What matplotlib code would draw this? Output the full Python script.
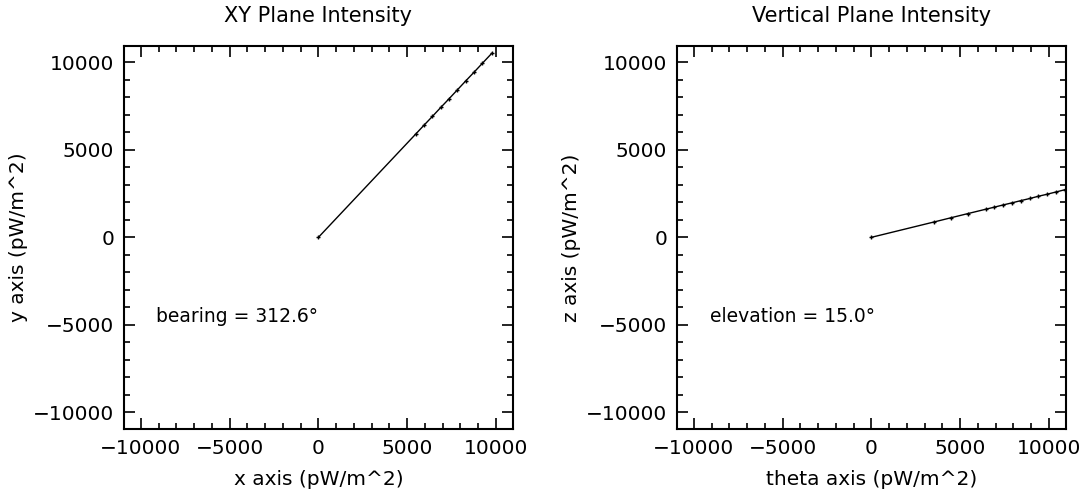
import matplotlib
matplotlib.use('Agg')
import matplotlib.pyplot as plt
from matplotlib.ticker import MultipleLocator

'''Intensity samples read off the plot (pW/m^2)'''
xy_x = [0, 5480, 5950, 6420, 6890, 7360, 7830, 8300, 8770, 9240, 9770]
xy_y = [0, 5900, 6410, 6910, 7420, 7920, 8430, 8940, 9440, 9950, 10520]

vert_theta = [0, 3540, 4490, 5450, 6460, 6910, 7420, 7920, 8430, 8930,
              9380, 9890, 10390, 10900, 11400]
vert_z = [0, 880, 1120, 1360, 1610, 1720, 1850, 1970, 2100, 2220,
          2340, 2460, 2590, 2720, 2840]

bearing = 312.6
elevation = 15.0

LIMIT = 10950
TICKS = [-10000, -5000, 0, 5000, 10000]
TICK_LABELS = ['\u221210000', '\u22125000', '0', '5000', '10000']

plt.rcParams['font.family'] = 'DejaVu Sans'

fig = plt.figure(figsize=(10.92, 4.97), dpi=100)
ax1 = fig.add_axes([0.1136, 0.137, 0.356, 0.771])
ax2 = fig.add_axes([0.620, 0.137, 0.356, 0.771])


def style_axis(ax, title, xlabel, ylabel):
    ax.set_xlim(-LIMIT, LIMIT)
    ax.set_ylim(-LIMIT, LIMIT)
    ax.set_xticks(TICKS)
    ax.set_yticks(TICKS)
    ax.set_xticklabels(TICK_LABELS)
    ax.set_yticklabels(TICK_LABELS)
    ax.xaxis.set_minor_locator(MultipleLocator(1000))
    ax.yaxis.set_minor_locator(MultipleLocator(1000))
    ax.tick_params(which='both', direction='in', top=True, right=True,
                   width=1.2, labelsize=14.5, pad=7)
    ax.tick_params(which='major', length=8)
    ax.tick_params(which='minor', length=4)
    for sp in ax.spines.values():
        sp.set_linewidth(1.5)
    ax.set_title(title, fontsize=15, pad=17)
    ax.set_xlabel(xlabel, fontsize=14.5, labelpad=9)
    ax.set_ylabel(ylabel, fontsize=14.5, labelpad=4)


ax1.plot(xy_x, xy_y, '-', color='black', lw=1.0, marker='+', ms=3, mew=1.0)
ax1.text(-9150, -4540, 'bearing = %.1f\u00b0' % bearing, fontsize=13.5, va='center')
style_axis(ax1, 'XY Plane Intensity', 'x axis (pW/m^2)', 'y axis (pW/m^2)')

ax2.plot(vert_theta, vert_z, '-', color='black', lw=1.0, marker='+', ms=3, mew=1.0)
ax2.text(-9100, -4540, 'elevation = %.1f\u00b0' % elevation, fontsize=13.5, va='center')
style_axis(ax2, 'Vertical Plane Intensity', 'theta axis (pW/m^2)', 'z axis (pW/m^2)')

plt.savefig('out.png', dpi=100)
